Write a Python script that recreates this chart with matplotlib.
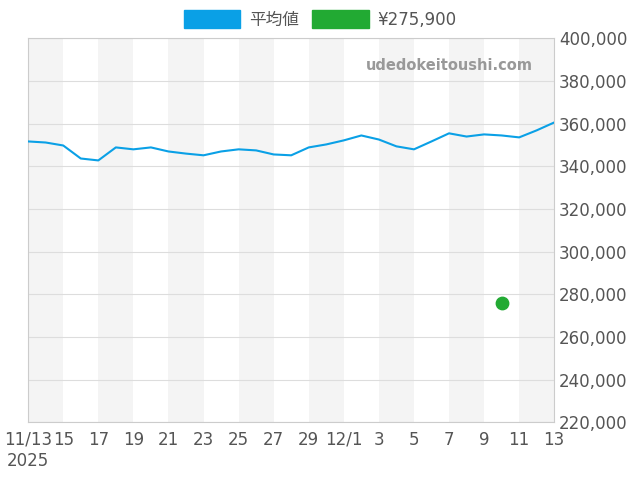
import numpy as np
import matplotlib
matplotlib.use("Agg")
import matplotlib.pyplot as plt
from matplotlib.patches import Patch

plt.rcParams['font.family'] = ['DejaVu Sans', 'Noto Sans CJK JP']

# day index 0 = 11/13, 30 = 12/13
avg = [351.7, 351.2, 349.8, 343.7, 342.8, 348.9, 348.0, 348.9, 347.0, 346.0,
       345.2, 347.0, 348.0, 347.5, 345.6, 345.2, 348.9, 350.3, 352.2, 354.5,
       352.6, 349.4, 348.0, 351.7, 355.5, 354.0, 355.0, 354.5, 353.6, 356.9, 360.6]
avg = np.array(avg) * 1000
point_day = 27
point_price = 275900
tick_labels = ["11/13\n2025", "15", "17", "19", "21", "23", "25", "27", "29",
               "12/1", "3", "5", "7", "9", "11", "13"]

fig = plt.figure(figsize=(6.4, 4.8), dpi=100)
ax = fig.add_axes([0.044, 0.12, 0.822, 0.8])

days = np.arange(len(avg))
for start in range(0, 30, 4):
    ax.axvspan(start, start + 2, color='#f4f4f4', zorder=0, lw=0)
ax.plot(days, avg, color='#0aa0e6', lw=1.5, zorder=3)
ax.scatter([point_day], [point_price], s=80, color='#22aa33', zorder=4)

ax.set_xlim(0, 30)
ax.set_ylim(220000, 400000)
ax.set_xticks(np.arange(0, 31, 2))
ax.set_xticklabels(tick_labels)
ax.set_yticks(np.arange(220000, 400001, 20000))
ax.set_yticklabels([f"{v:,}" for v in range(220000, 400001, 20000)])
ax.yaxis.tick_right()
ax.grid(axis='y', color='#dddddd', lw=0.8)
ax.tick_params(colors='#555555', labelsize=12, length=0)
ax.tick_params(axis='x', pad=6)
for s in ax.spines.values():
    s.set_color('#cccccc')

ax.text(0.96, 0.93, "udedokeitoushi.com", transform=ax.transAxes, ha='right',
        va='center', fontsize=10.5, fontweight='bold', color='#999999')

handles = [Patch(color='#0aa0e6', label='平均値'), Patch(color='#22aa33', label='¥275,900')]
fig.legend(handles=handles, loc='upper center', bbox_to_anchor=(0.5, 1.01), ncol=2,
           frameon=False, fontsize=12, handlelength=3.4, handleheight=1.3,
           handletextpad=0.5, columnspacing=0.8, labelcolor='#555555')

fig.savefig("out.png")
